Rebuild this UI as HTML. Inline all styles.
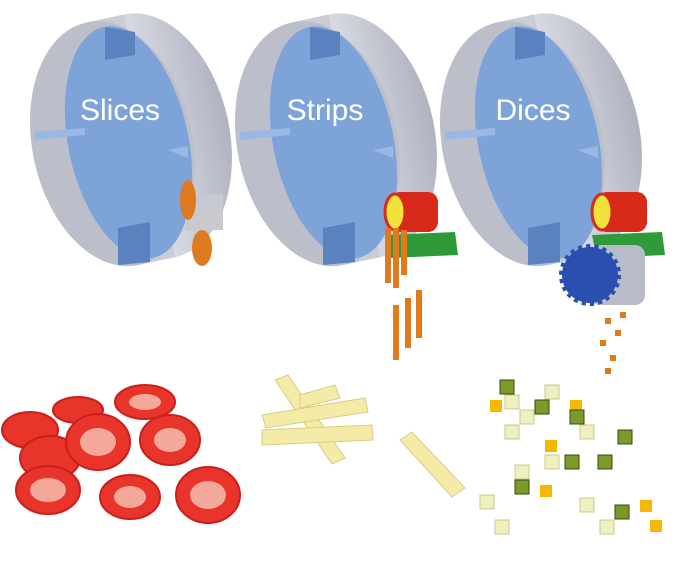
<!DOCTYPE html>
<html><head><meta charset="utf-8"><style>
html,body{margin:0;padding:0;background:#fff;width:674px;height:568px;overflow:hidden}
svg{display:block}
text{font-family:"Liberation Sans",sans-serif}
</style></head><body>
<svg width="674" height="568" viewBox="0 0 674 568">
<defs>
<linearGradient id="rim" x1="0" y1="0" x2="1" y2="0">
<stop offset="0" stop-color="#a4a6b4"/><stop offset="0.45" stop-color="#dcdee6"/><stop offset="1" stop-color="#b0b2c0"/></linearGradient>
<g id="drum">
<g transform="rotate(-12 130 140)">
<ellipse cx="150" cy="140" rx="80" ry="124" fill="url(#rim)"/>
<rect x="110" y="16" width="40" height="248" fill="#caccd6"/>
<ellipse cx="112" cy="140" rx="80" ry="124" fill="#bcbeca"/>
<ellipse cx="128" cy="142" rx="60" ry="118" fill="#7ea3d8"/>
</g>
<polygon points="105,27 135,32 135,55 105,60" fill="#5a82bf"/>
<polygon points="118,228 150,222 150,262 118,265" fill="#5a82bf"/>
<polygon points="35,132 85,128 85,135 35,140" fill="#9ab8e4"/>
<polygon points="168,150 188,146 188,158" fill="#9ab8e4"/>
</g>
</defs>
<use href="#drum"/>
<use href="#drum" x="205"/>
<use href="#drum" x="410"/>
<text x="120" y="120" font-size="30" fill="#fff" text-anchor="middle">Slices</text>
<text x="325" y="120" font-size="30" fill="#fff" text-anchor="middle">Strips</text>
<text x="533" y="120" font-size="30" fill="#fff" text-anchor="middle">Dices</text>
<rect x="185" y="195" width="38" height="35" fill="#c8cad0"/>
<ellipse cx="188" cy="200" rx="8" ry="20" fill="#e07a1f"/>
<ellipse cx="202" cy="248" rx="10" ry="18" fill="#e07a1f"/>
<polygon points="385,235 455,232 458,255 390,258" fill="#2e9a3a"/>
<rect x="390" y="192" width="48" height="40" rx="10" fill="#d82a1a"/>
<ellipse cx="395" cy="212" rx="10" ry="18" fill="#f2e23a" stroke="#d82a1a" stroke-width="3"/>
<g fill="#e07a1f"><rect x="385" y="228" width="6" height="55"/><rect x="393" y="228" width="6" height="60"/><rect x="401" y="230" width="6" height="45"/>
<rect x="393" y="305" width="6" height="55"/><rect x="405" y="298" width="6" height="50"/><rect x="416" y="290" width="6" height="48"/></g>
<polygon points="592,235 662,232 665,255 597,258" fill="#2e9a3a"/>
<rect x="597" y="192" width="50" height="40" rx="10" fill="#d82a1a"/>
<ellipse cx="602" cy="212" rx="10" ry="18" fill="#f2e23a" stroke="#d82a1a" stroke-width="3"/>
<rect x="590" y="245" width="55" height="60" rx="10" fill="#b8bcc8"/>
<circle cx="590" cy="275" r="28" fill="#2a4fb0" stroke="#2a4fb0" stroke-width="6" stroke-dasharray="4 4"/>
<g fill="#e07a1f"><rect x="605" y="318" width="6" height="6"/><rect x="615" y="330" width="6" height="6"/><rect x="600" y="340" width="6" height="6"/><rect x="610" y="355" width="6" height="6"/><rect x="620" y="312" width="6" height="6"/><rect x="605" y="368" width="6" height="6"/></g>
<g fill="#e8342a" stroke="#c8201a" stroke-width="2">
<ellipse cx="30" cy="430" rx="28" ry="18"/><ellipse cx="78" cy="410" rx="25" ry="13"/><ellipse cx="145" cy="402" rx="30" ry="17"/>
<ellipse cx="50" cy="458" rx="30" ry="22"/><ellipse cx="98" cy="442" rx="32" ry="28"/><ellipse cx="170" cy="440" rx="30" ry="25"/>
<ellipse cx="48" cy="490" rx="32" ry="24"/><ellipse cx="130" cy="497" rx="30" ry="22"/><ellipse cx="208" cy="495" rx="32" ry="28"/></g>
<g fill="#f4a89a"><ellipse cx="98" cy="442" rx="18" ry="14"/><ellipse cx="170" cy="440" rx="16" ry="12"/><ellipse cx="208" cy="495" rx="18" ry="14"/><ellipse cx="130" cy="497" rx="16" ry="11"/><ellipse cx="48" cy="490" rx="18" ry="12"/><ellipse cx="145" cy="402" rx="16" ry="8"/></g>
<g fill="#f4eba8" stroke="#d8cc80" stroke-width="1">
<polygon points="275,380 288,375 345,458 332,464"/><polygon points="262,415 365,398 368,412 266,428"/>
<polygon points="262,430 372,425 373,440 262,445"/><polygon points="300,395 335,385 340,398 300,408"/>
<polygon points="400,440 412,432 465,488 452,497"/></g>
<g fill="#eef0c0" stroke="#c8c890"><rect x="505" y="395" width="14" height="14"/><rect x="520" y="410" width="14" height="14"/><rect x="545" y="385" width="14" height="14"/><rect x="505" y="425" width="14" height="14"/><rect x="580" y="425" width="14" height="14"/><rect x="545" y="455" width="14" height="14"/><rect x="480" y="495" width="14" height="14"/><rect x="580" y="498" width="14" height="14"/><rect x="600" y="520" width="14" height="14"/><rect x="495" y="520" width="14" height="14"/><rect x="515" y="465" width="14" height="14"/></g>
<g fill="#f5b800"><rect x="490" y="400" width="12" height="12"/><rect x="545" y="440" width="12" height="12"/><rect x="540" y="485" width="12" height="12"/><rect x="640" y="500" width="12" height="12"/><rect x="650" y="520" width="12" height="12"/><rect x="570" y="400" width="12" height="12"/></g>
<g fill="#7a9a2a" stroke="#3a4a10"><rect x="500" y="380" width="14" height="14"/><rect x="535" y="400" width="14" height="14"/><rect x="570" y="410" width="14" height="14"/><rect x="618" y="430" width="14" height="14"/><rect x="565" y="455" width="14" height="14"/><rect x="598" y="455" width="14" height="14"/><rect x="515" y="480" width="14" height="14"/><rect x="615" y="505" width="14" height="14"/></g>
</svg>
</body></html>
